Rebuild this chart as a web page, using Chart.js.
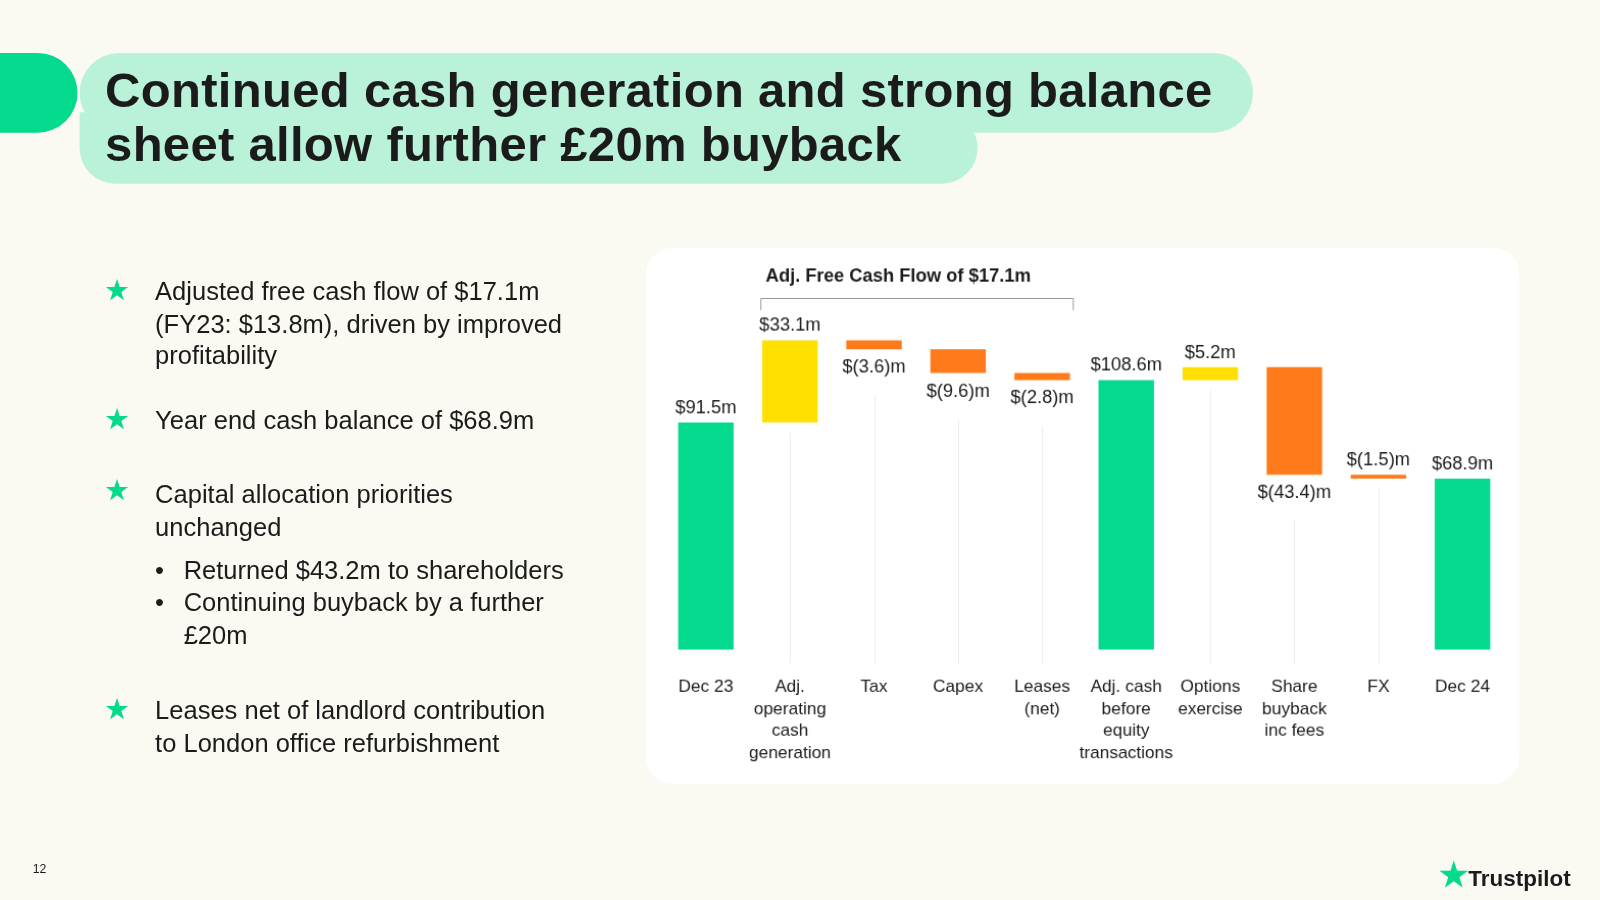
<!DOCTYPE html>
<html><head><meta charset="utf-8">
<script src="https://cdn.jsdelivr.net/npm/chart.js@4"></script>
<style>
body{margin:0;width:1600px;height:900px;background:#faf9f2;overflow:hidden}
#s{position:absolute;left:0;top:0;width:1568px;height:882px;transform:scale(1.0204);transform-origin:0 0;font-family:"Liberation Sans",Arial,sans-serif;color:#1b1b1b}
.tab{position:absolute;left:0;top:52px;width:76px;height:78px;background:#04da8d;border-radius:0 40px 40px 0}
.t1{position:absolute;left:78px;top:52px;width:1150px;height:78px;background:#b9f2d8;border-radius:40px}
.t2{position:absolute;left:78px;top:110px;width:880px;height:70px;background:#b9f2d8;border-radius:0 40px 40px 40px}
h1{position:absolute;left:103px;top:62px;margin:0;font:bold 48px/53px "Liberation Sans",Arial,sans-serif;letter-spacing:0.3px}
.bul{position:absolute;left:152px;font-size:25px;line-height:31.5px;width:420px}
.star{position:absolute;left:102px;color:#04da8d;font-size:28px}
.sub{position:absolute;left:152px;font-size:25px;line-height:31.5px;padding-left:28px;width:420px}
.sub i{position:absolute;left:0;font-style:normal}
.card{position:absolute;left:633px;top:243px;width:856px;height:525px;background:#fff;border-radius:26px}
#wrap{position:absolute;left:647px;top:236px;width:831px;height:531px}
.pg{position:absolute;left:32px;top:845px;font-size:12px}
.tp{position:absolute;left:1410px;top:838px;font:bold 22px "Liberation Sans",Arial,sans-serif}
.tp span{color:#04da8d;font-size:32px}
</style></head><body><div id="s">
<div class="tab"></div><div class="t1"></div><div class="t2"></div>
<h1>Continued cash generation and strong balance<br>sheet allow further £20m buyback</h1>
<div class="star" style="top:268px">★</div><div class="bul" style="top:270px">Adjusted free cash flow of $17.1m (FY23: $13.8m), driven by improved profitability</div>
<div class="star" style="top:394px">★</div><div class="bul" style="top:396px">Year end cash balance of $68.9m</div>
<div class="star" style="top:464px">★</div><div class="bul" style="top:469px;width:360px">Capital allocation priorities unchanged</div>
<div class="sub" style="top:543px"><i>•</i>Returned $43.2m to shareholders</div>
<div class="sub" style="top:575px"><i>•</i>Continuing buyback by a further £20m</div>
<div class="star" style="top:679px">★</div><div class="bul" style="top:681px;width:400px">Leases net of landlord contribution to London office refurbishment</div>
<div class="card"></div>
<div id="wrap"><canvas id="c"></canvas></div>
<div class="pg">12</div>
<div class="tp"><span>★</span>Trustpilot</div>
</div>
<script>
const categories = [["Dec 23"],["Adj.","operating","cash","generation"],["Tax"],["Capex"],["Leases","(net)"],["Adj. cash","before","equity","transactions"],["Options","exercise"],["Share","buyback","inc fees"],["FX"],["Dec 24"]];
const changes = [91.5, 33.1, -3.6, -9.6, -2.8, null, 5.2, -43.4, -1.5, null];
const valueLabels = ["$91.5m","$33.1m","$(3.6)m","$(9.6)m","$(2.8)m","$108.6m","$5.2m","$(43.4)m","$(1.5)m","$68.9m"];
const labelBelow = [false,false,true,true,true,false,false,true,false,false];

const GREEN='#04da8d', YELLOW='#ffe000', ORANGE='#ff7a1a';
let run=0; const ranges=[], colors=[];
changes.forEach((v,i)=>{
  if(v===null || i===0){ if(v!==null) run=v; ranges.push([0,run]); colors.push(GREEN); }
  else { const a=run; run+=v; ranges.push([Math.min(a,run),Math.max(a,run)]); colors.push(v>0?YELLOW:ORANGE); }
});

const deco={id:'deco',
  beforeDatasetsDraw(ch){
    const c=ch.ctx,y=ch.scales.y,meta=ch.getDatasetMeta(0);
    c.save();c.strokeStyle='#ececec';c.lineWidth=1;
    ranges.forEach((r,i)=>{ if(r[0]>0){const bx=Math.round(meta.data[i].x)+0.5;
      c.beginPath();c.moveTo(bx,y.getPixelForValue(r[0])+(labelBelow[i]?45:10));c.lineTo(bx,y.bottom+14);c.stroke();}});
    c.restore();
  },
  afterDatasetsDraw(ch){
    const c=ch.ctx,y=ch.scales.y,meta=ch.getDatasetMeta(0);
    c.save();c.font='18px "Liberation Sans",Arial,sans-serif';c.fillStyle='#1b1b1b';c.textAlign='center';
    meta.data.forEach((b,i)=>{
      if(labelBelow[i]){c.textBaseline='top';c.fillText(valueLabels[i],b.x,y.getPixelForValue(ranges[i][0])+9);}
      else{c.textBaseline='bottom';c.fillText(valueLabels[i],b.x,y.getPixelForValue(ranges[i][1])-5);}
    });
    const l=meta.data[1].x-29,r=meta.data[4].x+30,t=y.top-4;
    c.strokeStyle='#999';c.lineWidth=1;c.beginPath();c.moveTo(l+0.5,t+12);c.lineTo(l+0.5,t+0.5);c.lineTo(r+0.5,t+0.5);c.lineTo(r+0.5,t+12);c.stroke();
    c.font='bold 18px "Liberation Sans",Arial,sans-serif';c.textAlign='left';c.textBaseline='middle';c.fillText('Adj. Free Cash Flow of $17.1m',l+5,t-21);
    c.restore();
  }};

new Chart(document.getElementById('c'),{
  type:'bar',
  data:{labels:categories,datasets:[{data:ranges,backgroundColor:colors,barPercentage:0.66,categoryPercentage:1}]},
  options:{responsive:true,maintainAspectRatio:false,animation:false,
    layout:{padding:{top:60}},
    plugins:{legend:{display:false},tooltip:{enabled:false}},
    scales:{
      x:{grid:{display:false},border:{display:false},ticks:{color:'#1b1b1b',font:{size:17,family:'"Liberation Sans",Arial,sans-serif',lineHeight:1.27},padding:18,maxRotation:0,autoSkip:false}},
      y:{display:false,min:0,max:140}
    }},
  plugins:[deco]});
</script>
</body></html>
